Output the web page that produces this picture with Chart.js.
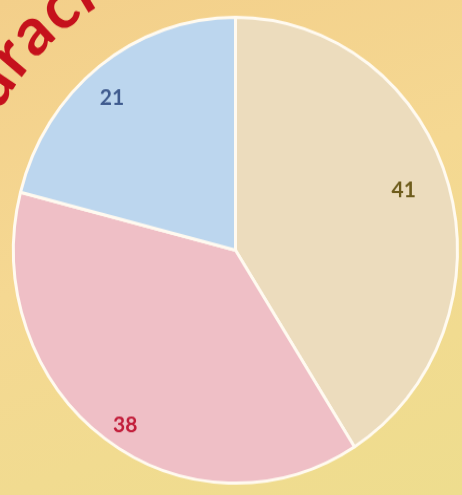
<!DOCTYPE html>
<html>
<head>
<meta charset="utf-8">
<script src="https://cdn.jsdelivr.net/npm/chart.js@4"></script>
<style>
  html, body { margin: 0; padding: 0; }
  #wrap {
    position: relative; width: 462px; height: 495px; overflow: hidden;
    background: linear-gradient(160deg, #f3cf8a 0%, #f5d892 45%, #f1db90 75%, #eedd8e 100%);
  }
  #box {
    position: absolute; left: 0; top: 0; width: 462px; height: 472px;
    transform: scaleY(1.049); transform-origin: 0 0;
  }
</style>
</head>
<body>
<div id="wrap"><div id="box"><canvas id="pie"></canvas></div></div>
<script>
// chart data
const labels = ['41', '38', '21'];
const values = [41, 38, 21];
const sliceColors = ['#ecdcbd', '#efbfc6', '#bcd6ee'];
const labelColors = ['#6e5c1c', '#c21d3a', '#3f5b8e'];
const titleText = 'Duración';

// draws the value inside each slice
const sliceLabels = {
  id: 'sliceLabels',
  afterDatasetsDraw(chart) {
    const ctx = chart.ctx;
    const arcs = chart.getDatasetMeta(0).data;
    const dist = [0.8, 0.9, 0.86];
    const shift = -2.5 * Math.PI / 180;
    ctx.save();
    ctx.font = 'bold 21px Lato';
    ctx.textAlign = 'center';
    ctx.textBaseline = 'middle';
    arcs.forEach((arc, i) => {
      const mid = (arc.startAngle + arc.endAngle) / 2 + shift;
      const r = arc.outerRadius * dist[i];
      ctx.fillStyle = labelColors[i];
      ctx.fillText(labels[i], arc.x + Math.cos(mid) * r, arc.y + Math.sin(mid) * r);
    });
    ctx.restore();
  }
};

// red title curved around the pie
const arcTitle = {
  id: 'arcTitle',
  afterDraw(chart) {
    const ctx = chart.ctx;
    const arc = chart.getDatasetMeta(0).data[0];
    const radius = 270;
    const mid = radius + 16;
    let angle = -161.5 * Math.PI / 180;
    ctx.save();
    ctx.font = 'bold 64px Lato';
    ctx.fillStyle = '#c5111c';
    ctx.textAlign = 'center';
    ctx.textBaseline = 'alphabetic';
    for (const ch of titleText) {
      const w = ctx.measureText(ch).width + 3;
      angle += w / 2 / mid;
      ctx.save();
      ctx.translate(arc.x + Math.cos(angle) * radius, arc.y + Math.sin(angle) * radius);
      ctx.rotate(angle + Math.PI / 2);
      ctx.fillText(ch, 0, 0);
      ctx.restore();
      angle += w / 2 / mid;
    }
    ctx.restore();
  }
};

new Chart(document.getElementById('pie'), {
  type: 'pie',
  data: {
    labels: labels,
    datasets: [{
      data: values,
      backgroundColor: sliceColors,
      borderColor: '#fffaf0',
      borderWidth: 3
    }]
  },
  options: {
    responsive: true,
    maintainAspectRatio: false,
    animation: false,
    layout: { padding: { left: 12, right: 3, top: 14, bottom: 9 } },
    plugins: {
      legend: { display: false },
      tooltip: { enabled: false }
    }
  },
  plugins: [sliceLabels, arcTitle]
});
</script>
</body>
</html>
